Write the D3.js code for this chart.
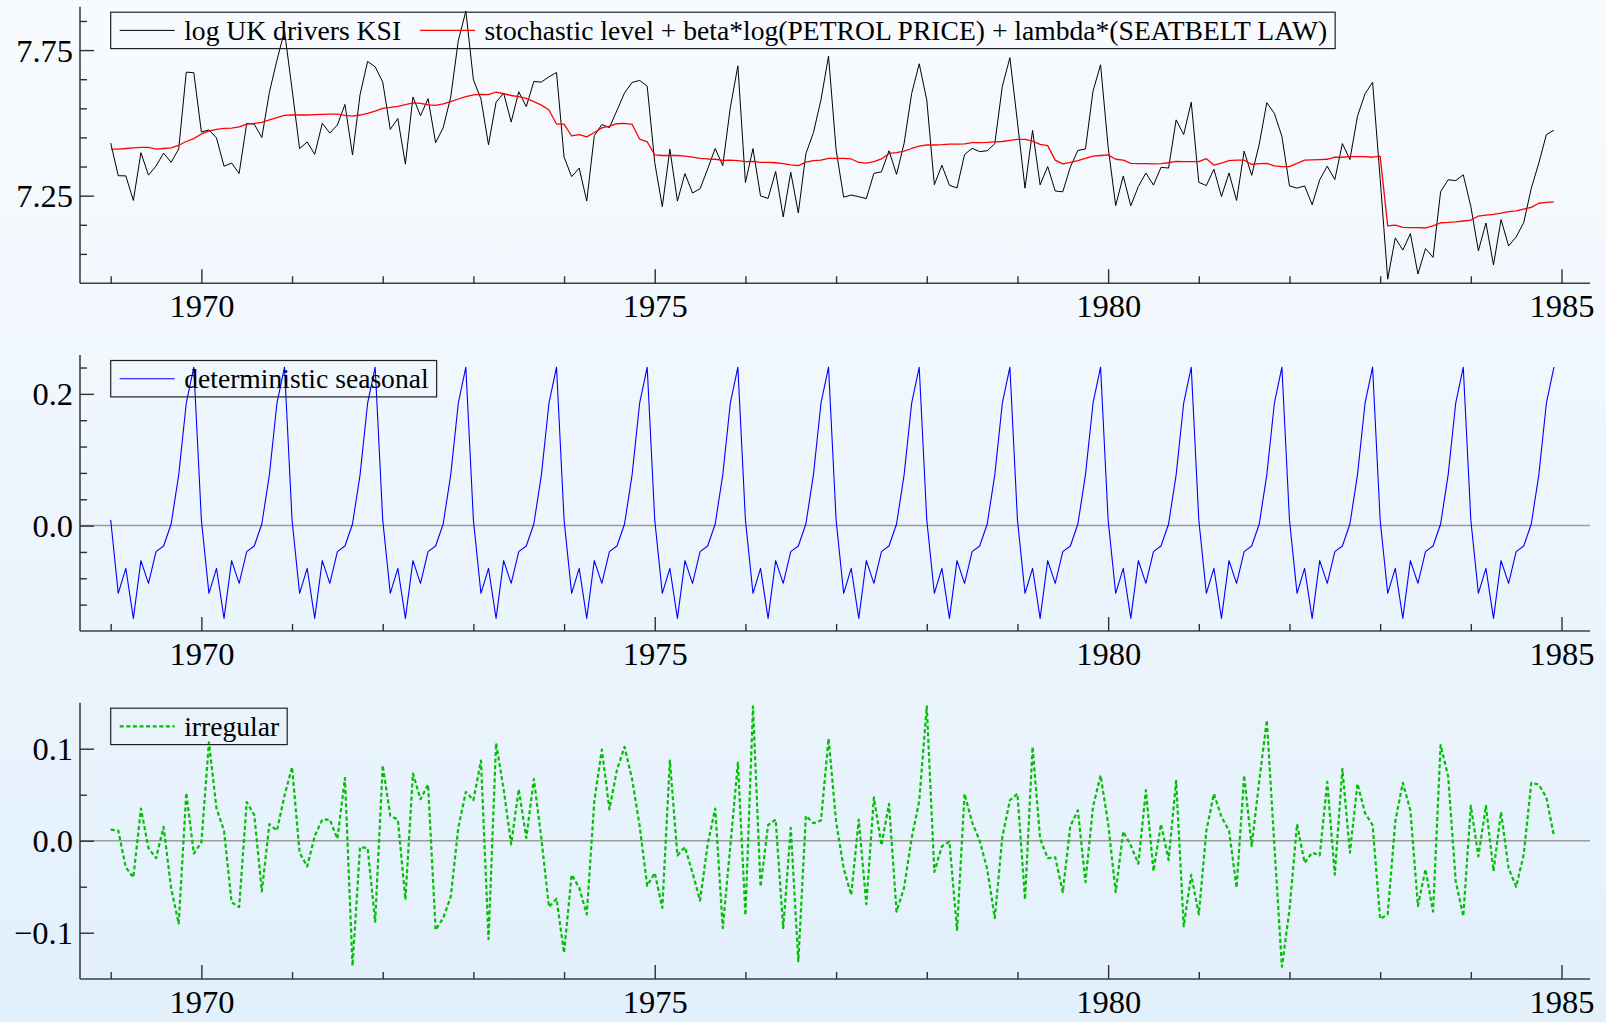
<!DOCTYPE html>
<html>
<head>
<meta charset="utf-8">
<script src="https://cdn.jsdelivr.net/npm/d3@7"></script>
<style>
html,body{margin:0;padding:0;background:#eef5fc;}
svg{display:block;}
svg text{font-family:'Liberation Serif','Times New Roman',Tinos,'DejaVu Serif',serif;}
</style>
</head>
<body>
<svg id="chart" width="1606" height="1022"></svg>
<script>
// ---------- DATA (monthly, Jan 1969 - Dec 1984) ----------
const startYear = 1969;

const logKSI = [
 7.4307,7.3185,7.3179,7.2335,7.3976,7.3205,7.3518,7.3963,7.3645,7.4103,7.6742,7.6723,
 7.4685,7.4759,7.4483,7.3511,7.3620,7.3265,7.4983,7.4955,7.4495,7.6049,7.7151,7.8152,
 7.6158,7.4115,7.4343,7.3920,7.4983,7.4651,7.4928,7.5632,7.3896,7.5969,7.7111,7.6926,
 7.6401,7.4776,7.5148,7.3582,7.5888,7.5246,7.5832,7.4319,7.4832,7.5888,7.7820,7.8838,
 7.6483,7.5822,7.4248,7.5710,7.6024,7.5027,7.6069,7.5559,7.6420,7.6401,7.6582,7.6732,
 7.3827,7.3152,7.3447,7.2313,7.4564,7.4944,7.4838,7.5427,7.6029,7.6387,7.6459,7.6261,
 7.3633,7.2123,7.4097,7.2313,7.3258,7.2591,7.2738,7.3415,7.4121,7.3531,7.5522,7.6958,
 7.2951,7.4115,7.2492,7.2406,7.3330,7.1770,7.3304,7.1907,7.3945,7.4662,7.5797,7.7293,
 7.4073,7.2449,7.2521,7.2464,7.2399,7.3265,7.3317,7.4043,7.3232,7.4295,7.6009,7.7030,
 7.5786,7.2875,7.3544,7.2855,7.2765,7.3914,7.4127,7.4012,7.4043,7.4283,7.6256,7.7240,
 7.5027,7.2758,7.4742,7.2869,7.3499,7.2661,7.2633,7.3486,7.4055,7.4103,7.6089,7.6994,
 7.4176,7.2160,7.3172,7.2152,7.2814,7.3278,7.2862,7.3473,7.3447,7.5104,7.4599,7.5710,
 7.2957,7.2848,7.3408,7.2471,7.3278,7.2335,7.4031,7.3199,7.4271,7.5694,7.5326,7.4536,
 7.2834,7.2758,7.2834,7.2189,7.3045,7.3511,7.3052,7.4289,7.3740,7.5229,7.5999,7.6396,
 7.3092,6.9632,7.1050,7.0631,7.1196,6.9810,7.0682,7.0379,7.2633,7.3045,7.3018,7.3218,
 7.2130,7.0605,7.1562,7.0121,7.1678,7.0775,7.1082,7.1577,7.2752,7.3620,7.4599,7.4748
];

const levelRegression = [
 7.410,7.410,7.412,7.414,7.416,7.416,7.410,7.412,7.414,7.423,7.436,7.446,
 7.462,7.472,7.478,7.481,7.482,7.486,7.496,7.498,7.502,7.510,7.518,7.526,
 7.527,7.527,7.527,7.528,7.529,7.530,7.530,7.526,7.523,7.527,7.533,7.540,
 7.550,7.553,7.557,7.563,7.569,7.567,7.562,7.560,7.565,7.573,7.582,7.590,
 7.596,7.598,7.597,7.606,7.600,7.594,7.590,7.584,7.573,7.561,7.544,7.496,
 7.496,7.455,7.460,7.452,7.467,7.483,7.489,7.497,7.498,7.495,7.444,7.435,
 7.390,7.388,7.388,7.388,7.386,7.382,7.378,7.376,7.375,7.371,7.372,7.370,
 7.367,7.368,7.364,7.364,7.363,7.360,7.356,7.353,7.365,7.370,7.372,7.378,
 7.378,7.378,7.376,7.364,7.362,7.367,7.376,7.395,7.398,7.403,7.412,7.420,
 7.424,7.424,7.425,7.427,7.427,7.428,7.432,7.432,7.433,7.435,7.436,7.440,
 7.443,7.443,7.437,7.426,7.422,7.372,7.359,7.364,7.370,7.378,7.386,7.388,
 7.390,7.375,7.372,7.361,7.360,7.360,7.359,7.360,7.363,7.368,7.367,7.367,
 7.367,7.377,7.355,7.362,7.370,7.372,7.372,7.357,7.360,7.361,7.352,7.350,
 7.350,7.361,7.372,7.373,7.374,7.375,7.382,7.382,7.384,7.384,7.384,7.382,
 7.386,7.146,7.149,7.141,7.140,7.140,7.139,7.146,7.157,7.158,7.160,7.163,
 7.166,7.180,7.183,7.186,7.190,7.195,7.198,7.204,7.210,7.224,7.227,7.229
];

const seasonal = [
 0.0086,-0.1028,-0.0648,-0.1408,-0.0532,-0.0876,-0.0395,-0.0309,0.0025,0.0770,0.1858,0.2405,
 0.0086,-0.1028,-0.0648,-0.1408,-0.0532,-0.0876,-0.0395,-0.0309,0.0025,0.0770,0.1858,0.2405,
 0.0086,-0.1028,-0.0648,-0.1408,-0.0532,-0.0876,-0.0395,-0.0309,0.0025,0.0770,0.1858,0.2405,
 0.0086,-0.1028,-0.0648,-0.1408,-0.0532,-0.0876,-0.0395,-0.0309,0.0025,0.0770,0.1858,0.2405,
 0.0086,-0.1028,-0.0648,-0.1408,-0.0532,-0.0876,-0.0395,-0.0309,0.0025,0.0770,0.1858,0.2405,
 0.0086,-0.1028,-0.0648,-0.1408,-0.0532,-0.0876,-0.0395,-0.0309,0.0025,0.0770,0.1858,0.2405,
 0.0086,-0.1028,-0.0648,-0.1408,-0.0532,-0.0876,-0.0395,-0.0309,0.0025,0.0770,0.1858,0.2405,
 0.0086,-0.1028,-0.0648,-0.1408,-0.0532,-0.0876,-0.0395,-0.0309,0.0025,0.0770,0.1858,0.2405,
 0.0086,-0.1028,-0.0648,-0.1408,-0.0532,-0.0876,-0.0395,-0.0309,0.0025,0.0770,0.1858,0.2405,
 0.0086,-0.1028,-0.0648,-0.1408,-0.0532,-0.0876,-0.0395,-0.0309,0.0025,0.0770,0.1858,0.2405,
 0.0086,-0.1028,-0.0648,-0.1408,-0.0532,-0.0876,-0.0395,-0.0309,0.0025,0.0770,0.1858,0.2405,
 0.0086,-0.1028,-0.0648,-0.1408,-0.0532,-0.0876,-0.0395,-0.0309,0.0025,0.0770,0.1858,0.2405,
 0.0086,-0.1028,-0.0648,-0.1408,-0.0532,-0.0876,-0.0395,-0.0309,0.0025,0.0770,0.1858,0.2405,
 0.0086,-0.1028,-0.0648,-0.1408,-0.0532,-0.0876,-0.0395,-0.0309,0.0025,0.0770,0.1858,0.2405,
 0.0086,-0.1028,-0.0648,-0.1408,-0.0532,-0.0876,-0.0395,-0.0309,0.0025,0.0770,0.1858,0.2405,
 0.0086,-0.1028,-0.0648,-0.1408,-0.0532,-0.0876,-0.0395,-0.0309,0.0025,0.0770,0.1858,0.2405
];

const irregular = [
 0.012,0.011,-0.029,-0.040,0.035,-0.008,-0.019,0.015,-0.052,-0.090,0.052,-0.014,
 -0.002,0.107,0.035,0.011,-0.067,-0.072,0.042,0.028,-0.055,0.018,0.011,0.049,
 0.080,-0.013,-0.028,0.005,0.023,0.023,0.002,0.068,-0.136,-0.007,-0.008,-0.088,
 0.082,0.027,0.023,-0.064,0.073,0.045,0.061,-0.097,-0.084,-0.061,0.014,0.053,
 0.044,0.087,-0.107,0.106,0.056,-0.004,0.056,0.003,0.067,0.002,-0.072,-0.063,
 -0.122,-0.037,-0.051,-0.080,0.043,0.099,0.034,0.077,0.102,0.067,0.016,-0.049,
 -0.035,-0.073,0.087,-0.016,-0.007,-0.035,-0.065,-0.004,0.035,-0.095,-0.006,0.085,
 -0.081,0.146,-0.050,0.017,0.023,-0.095,0.014,-0.131,0.027,0.019,0.022,0.111,
 0.021,-0.030,-0.059,0.023,-0.069,0.047,-0.005,0.040,-0.077,-0.051,0.003,0.043,
 0.146,-0.034,-0.006,-0.001,-0.097,0.051,0.020,0.000,-0.031,-0.084,0.004,0.044,
 0.051,-0.064,0.102,0.002,-0.019,-0.018,-0.056,0.016,0.033,-0.045,0.037,0.071,
 0.019,-0.056,0.010,-0.005,-0.025,0.055,-0.033,0.018,-0.021,0.065,-0.093,-0.037,
 -0.080,0.011,0.051,0.026,0.011,-0.051,0.071,-0.006,0.065,0.131,-0.005,-0.137,
 -0.075,0.018,-0.024,-0.013,-0.016,0.064,-0.037,0.078,-0.013,0.062,0.030,0.017,
 -0.085,-0.080,0.021,0.063,0.033,-0.071,-0.031,-0.077,0.104,0.070,-0.044,-0.082,
 0.038,-0.017,0.038,-0.033,0.031,-0.030,-0.050,-0.015,0.063,0.061,0.047,0.005
];

const xMajorTicks = [1970, 1975, 1980, 1985];
const xMinorTicks = [1969,1971,1972,1973,1974,1976,1977,1978,1979,1981,1982,1983,1984];
const y1Major = [7.25, 7.75];
const y1Minor = [7.05, 7.15, 7.35, 7.45, 7.55, 7.65, 7.85];
const y2Major = [0.0, 0.2];
const y2Minor = [-0.12, -0.08, -0.04, 0.04, 0.08, 0.12, 0.16, 0.24];
const y3Major = [-0.1, 0.0, 0.1];
const y3Minor = [-0.05, 0.05];

const labelKSI = "log UK drivers KSI";
const labelLevel = "stochastic level + beta*log(PETROL PRICE) + lambda*(SEATBELT LAW)";
const labelSeasonal = "deterministic seasonal";
const labelIrregular = "irregular";

// ---------- DRAWING ----------
const W = 1606, H = 1022;
const FONT = "'Liberation Serif','Times New Roman',Tinos,'DejaVu Serif',serif";
const TICK_FS = 32.5, LEG_FS = 27.6;
const svg = d3.select("#chart");

const defs = svg.append("defs");
const grad = defs.append("linearGradient").attr("id","bg")
  .attr("x1",0).attr("y1",0).attr("x2",0).attr("y2",1);
grad.append("stop").attr("offset","0%").attr("stop-color","#f8fbfe");
grad.append("stop").attr("offset","100%").attr("stop-color","#e2f0fc");
svg.append("rect").attr("width",W).attr("height",H).attr("fill","url(#bg)");

const axisLeftX = 80, axisRightX = 1590;
const x = d3.scaleLinear().domain([1969, 1985]).range([110.7, 1561.5]);

const panels = [
  { top: 6.7, bottom: 283.3, domain: [6.949, 7.899], major: y1Major, minor: y1Minor,
    fmt: d3.format(".2f"), zero: false,
    series: [
      { data: logKSI, color: "#000000", width: 1, label: labelKSI },
      { data: levelRegression, color: "#ff0000", width: 1.3, label: labelLevel }
    ] },
  { top: 355, bottom: 631, domain: [-0.16, 0.259], major: y2Major, minor: y2Minor,
    fmt: d3.format(".1f"), zero: true,
    series: [
      { data: seasonal, color: "#0000ff", width: 1.1, label: labelSeasonal }
    ] },
  { top: 702.7, bottom: 979, domain: [-0.1503, 0.150], major: y3Major, minor: y3Minor,
    fmt: d3.format(".1f"), zero: true,
    series: [
      { data: irregular, color: "#00c000", width: 2.2, dash: "4,2.6", label: labelIrregular }
    ] }
];

function styleAxis(sel, showText) {
  sel.selectAll(".tick line").attr("stroke","#303030").attr("stroke-width",1.4);
  sel.selectAll(".domain").attr("stroke","#404040").attr("stroke-width",1.6);
  sel.selectAll("text").attr("font-family",FONT).attr("font-size",TICK_FS).attr("fill","#000");
  if (!showText) sel.selectAll("text").remove();
}

panels.forEach(p => {
  const y = d3.scaleLinear().domain(p.domain).range([p.bottom, p.top]);
  const g = svg.append("g");

  if (p.zero) {
    g.append("line").attr("x1",axisLeftX).attr("x2",axisRightX)
      .attr("y1",y(0)).attr("y2",y(0))
      .attr("stroke","#9c9c9c").attr("stroke-width",1.5);
  }

  p.series.forEach(s => {
    const line = d3.line()
      .x((d,i) => x(startYear + i/12))
      .y(d => y(d));
    g.append("path").datum(s.data)
      .attr("d", line)
      .attr("fill","none")
      .attr("stroke", s.color)
      .attr("stroke-width", s.width)
      .attr("stroke-dasharray", s.dash || null)
      .attr("stroke-linejoin","round");
  });

  const yMaj = g.append("g").attr("transform",`translate(${axisLeftX},0)`)
    .call(d3.axisLeft(y).tickValues(p.major).tickFormat(p.fmt)
      .tickSizeInner(-14).tickSizeOuter(0).tickPadding(7));
  styleAxis(yMaj, true);
  yMaj.selectAll("text").attr("dy","0.34em");
  yMaj.select(".domain").attr("d", `M0,${p.bottom}V${p.top}`);
  const yMin = g.append("g").attr("transform",`translate(${axisLeftX},0)`)
    .call(d3.axisLeft(y).tickValues(p.minor).tickSizeInner(-7).tickSizeOuter(0));
  yMin.select(".domain").remove();
  styleAxis(yMin, false);

  g.append("line").attr("x1",axisLeftX).attr("x2",axisRightX)
    .attr("y1",p.bottom).attr("y2",p.bottom)
    .attr("stroke","#404040").attr("stroke-width",1.6);
  const xMaj = g.append("g").attr("transform",`translate(0,${p.bottom})`)
    .call(d3.axisBottom(x).tickValues(xMajorTicks).tickFormat(d3.format("d"))
      .tickSizeInner(-14).tickSizeOuter(0).tickPadding(11));
  xMaj.select(".domain").remove();
  styleAxis(xMaj, true);
  const xMin = g.append("g").attr("transform",`translate(0,${p.bottom})`)
    .call(d3.axisBottom(x).tickValues(xMinorTicks).tickSizeInner(-7).tickSizeOuter(0));
  xMin.select(".domain").remove();
  styleAxis(xMin, false);

  const bx = 110.7, by = p.top + 5.5, bh = 36.4;
  const lg = g.append("g");
  let cx = bx + 9;
  p.series.forEach(s => {
    lg.append("line").attr("x1",cx).attr("x2",cx+55)
      .attr("y1",by+bh/2).attr("y2",by+bh/2)
      .attr("stroke",s.color).attr("stroke-width",s.width)
      .attr("stroke-dasharray", s.dash || null);
    const t = lg.append("text").attr("x",cx+64.5).attr("y",by+27.3)
      .attr("font-family",FONT).attr("font-size",LEG_FS).attr("fill","#000")
      .text(s.label);
    const w = t.node().getComputedTextLength();
    cx = cx + 64.5 + w + 19;
  });
  const right = cx - 19 + 8;
  lg.insert("rect",":first-child").attr("x",bx).attr("y",by)
    .attr("width",right-bx).attr("height",bh)
    .attr("fill","none").attr("stroke","#202020").attr("stroke-width",1.2);
});
</script>
</body>
</html>
